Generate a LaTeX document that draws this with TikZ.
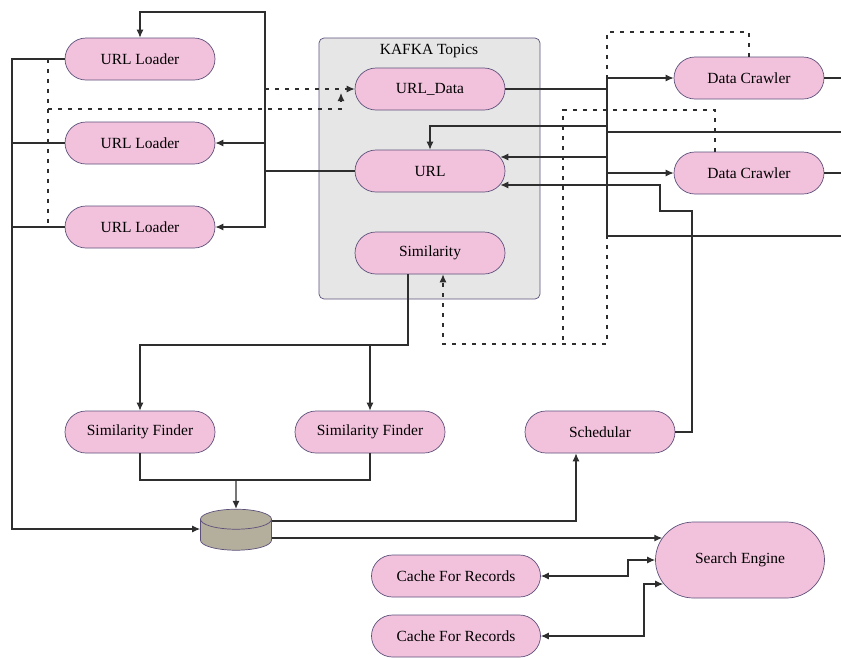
\documentclass[tikz,border=0pt]{standalone}
\usepackage{fontspec}
\setmainfont{Liberation Serif}
\usetikzlibrary{arrows.meta,shapes.misc,shapes.geometric}
\definecolor{topicpink}{HTML}{F2C2DD}
\definecolor{rim}{HTML}{5C507A}
\definecolor{dbfill}{HTML}{B4AE9C}
\definecolor{boxgray}{HTML}{E6E6E6}
\definecolor{wire}{HTML}{2E2E2E}
\begin{document}
\begin{tikzpicture}[x=1pt, y=-1pt, color=wire, line width=1.1pt,
    >={Latex[length=8pt,width=7pt]},
    topic/.style={rounded rectangle, draw=rim, fill=topicpink, text=black, line width=0.7pt,
      inner sep=0pt, minimum width=150pt, minimum height=42pt, font=\fontsize{15.5}{18}\selectfont},
    dotline/.style={dash pattern=on 4pt off 6pt}]
      \useasboundingbox (0,0) rectangle (841,657);
      \node[draw=rim, fill=boxgray, rounded corners=5pt, line width=0.7pt,
        minimum width=221pt, minimum height=261pt] (K) at (429.5,168.5) {};
      \node[text=black, font=\fontsize{15.5}{18}\selectfont] (KT) at (429,51) {KAFKA Topics};
      \node[topic] (L1) at (140,59) {URL Loader};
      \node[topic] (L2) at (140,143) {URL Loader};
      \node[topic] (L3) at (140,227) {URL Loader};
      \node[topic] (UD) at (430,89) {URL\_Data};
      \node[topic] (U) at (430,171) {URL};
      \node[topic] (S) at (430,253) {Similarity};
      \node[topic] (C1) at (749,78) {Data Crawler};
      \node[topic] (C2) at (749,173) {Data Crawler};
      \node[topic] (F1) at (140,432) {Similarity Finder};
      \node[topic] (F2) at (370,432) {Similarity Finder};
      \node[topic] (SCH) at (600,432) {Schedular};
      \node[cylinder, shape border rotate=90, aspect=3, draw=rim, fill=dbfill, line width=0.7pt,
        minimum width=71pt, minimum height=41pt] (DB) at (236,537) {};
      \node[topic, minimum width=169pt, minimum height=76pt] (SE) at (740,560) {Search Engine};
      \node[topic, minimum width=169pt] (R1) at (456,576) {Cache For Records};
      \node[topic, minimum width=169pt] (R2) at (456,636) {Cache For Records};
      \coordinate (J) at (265,171);
      \coordinate (M) at (341,93);
      \coordinate (B) at (607,89);
      \draw[->] (L1.west) -| (12,529) -- (DB.west |- 0,529);
      \draw (L2.west) -- (12,143);
      \draw (L3.west) -- (12,227);
      \draw[dotline] (48,59) -- (48,227);
      \draw[dotline,->] (48,109) -| (M);
      \draw[dotline,->] (265,89) -- (UD.west);
      \draw[->] (U.west) -- (J) |- (L3.east);
      \draw[->] (J) |- (L2.east);
      \draw[->] (J) -- (265,12) -| (L1.north);
      \draw (UD.east) -- (B);
      \draw (607,78) -- (607,236) -- (841,236);
      \draw[->] (607,78) -- (C1.west);
      \draw[->] (607,173) -- (C2.west);
      \draw (C1.east) -- (841,78);
      \draw (C2.east) -- (841,173);
      \draw (841,132) -- (607,132);
      \draw[->] (607,126) -| (U.north);
      \draw[->] (607,157) -- (U.11 |- 0,157);
      \draw[->] (SCH.east) -| (692,211) -| (660,185) -- (U.-11 |- 0,185);
      \draw[dotline,->] (C1.north) |- (607,32) -- (607,344) -| ([xshift=13pt]S.south);
      \draw[dotline] ([xshift=-34pt]C2.north) |- (563,110) -- (563,344);
      \draw[->] ([xshift=-22pt]S.south) |- (140,345) -- (F1.north);
      \draw[->] (370,345) -- (F2.north);
      \draw (F1.south) |- (236,480) -| (F2.south);
      \draw[->] (236,480) -- (DB.north);
      \draw[->] (DB.east |- 0,521) -| ([xshift=-24pt]SCH.south);
      \draw[->] (DB.east |- 0,538) -- (SE.164 |- 0,538);
      \draw[<->] (R1.east) -| (628,560) -- (SE.west);
      \draw[<->] (R2.east) -| (644,584) -- (SE.197 |- 0,584);
      \end{tikzpicture}
\end{document}
